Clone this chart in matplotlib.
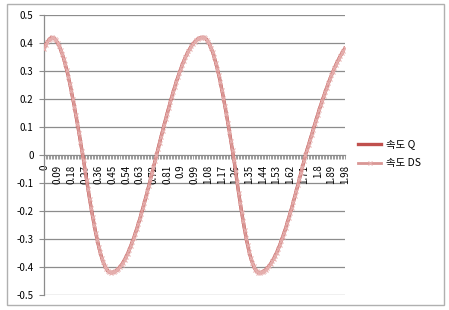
import matplotlib
matplotlib.use("Agg")
import matplotlib.pyplot as plt
from matplotlib.patches import Rectangle

plt.rcParams['font.family'] = ['Noto Sans CJK KR', 'DejaVu Sans']

# categories: time 0.00 .. 1.98
time = [round(0.01 * i, 2) for i in range(199)]

speed_q = [
    0.380, 0.392, 0.402, 0.410, 0.416, 0.420,
    0.419, 0.415, 0.409, 0.400, 0.390, 0.376, 0.361, 0.344, 0.324, 0.303,
    0.280, 0.255, 0.228, 0.201, 0.172, 0.142, 0.111, 0.080, 0.048, 0.016,
    -0.018, -0.053, -0.089, -0.123, -0.157, -0.189, -0.220, -0.250, -0.278, -0.303,
    -0.327, -0.348, -0.367, -0.383, -0.396, -0.406, -0.414, -0.419, -0.420,
    -0.419, -0.418, -0.415, -0.411, -0.406, -0.399, -0.392, -0.384, -0.374, -0.364,
    -0.352, -0.340, -0.326, -0.312, -0.297, -0.281, -0.264, -0.247, -0.229, -0.210,
    -0.191, -0.171, -0.151, -0.130, -0.109, -0.087, -0.066, -0.044, -0.022, 0.000,
    0.022, 0.043, 0.065, 0.086, 0.107, 0.128, 0.148, 0.168, 0.188, 0.207,
    0.225, 0.243, 0.261, 0.277, 0.293, 0.308, 0.323, 0.336, 0.349, 0.360,
    0.371, 0.380, 0.389, 0.397, 0.403, 0.409, 0.413, 0.417, 0.419, 0.420,
    0.420, 0.417, 0.412, 0.404, 0.394, 0.381, 0.367, 0.349, 0.330, 0.308,
    0.285, 0.260, 0.233, 0.205, 0.176, 0.145, 0.114, 0.082, 0.049, 0.017,
    -0.019, -0.058, -0.096, -0.134, -0.170, -0.204, -0.237, -0.268, -0.297, -0.323,
    -0.347, -0.367, -0.384, -0.398, -0.409, -0.416, -0.420,
    -0.420, -0.419, -0.417, -0.413, -0.409, -0.403, -0.397, -0.389, -0.380, -0.371,
    -0.360, -0.349, -0.336, -0.323, -0.308, -0.293, -0.277, -0.261, -0.243, -0.225,
    -0.207, -0.188, -0.168, -0.148, -0.128, -0.107, -0.086, -0.065, -0.043, -0.022,
    0.000, 0.018, 0.037, 0.055, 0.073, 0.091, 0.109, 0.126, 0.144, 0.161,
    0.178, 0.194, 0.210, 0.226, 0.241, 0.256, 0.270, 0.284, 0.297, 0.310,
    0.322, 0.333, 0.344, 0.354, 0.364, 0.373, 0.381,
]
speed_ds = list(speed_q)

x_tick_labels = ["0", "0.09", "0.18", "0.27", "0.36", "0.45", "0.54", "0.63",
                 "0.72", "0.81", "0.9", "0.99", "1.08", "1.17", "1.26", "1.35",
                 "1.44", "1.53", "1.62", "1.71", "1.8", "1.89", "1.98"]
y_ticks = [-0.5, -0.4, -0.3, -0.2, -0.1, 0, 0.1, 0.2, 0.3, 0.4, 0.5]
y_tick_labels = ["-0.5", "-0.4", "-0.3", "-0.2", "-0.1", "0", "0.1", "0.2", "0.3", "0.4", "0.5"]
series_names = ["속도 Q", "속도 DS"]

W, H = 449, 310
fig = plt.figure(figsize=(W / 100, H / 100), dpi=100)
fig.patch.set_facecolor('white')

# outer chart border
fig.patches.append(Rectangle((7 / W, 1 - 305 / H), 437 / W, 301 / H,
                             transform=fig.transFigure, fill=False,
                             edgecolor='#B0B0B0', linewidth=1.0))

ax = fig.add_axes([44 / W, 15 / H, 301 / W, 280 / H])
ax.set_facecolor('none')

idx = list(range(len(time)))
grid_c = '#8C8C8C'
for yv in y_ticks:
    if yv != 0:
        ax.axhline(yv, color=grid_c, lw=0.9, zorder=1)

ln_q, = ax.plot(idx, speed_q, color='#C0504D', lw=2.4, zorder=3, label=series_names[0])
ln_ds, = ax.plot(idx, speed_ds, color='#D99694', lw=2.0, marker='x', ms=3.2,
                 mew=0.8, mec='#E6B0AF', zorder=4, label=series_names[1])

ax.set_xlim(0, len(time) - 1)
ax.set_ylim(-0.5, 0.5)

for s in ['top', 'right']:
    ax.spines[s].set_visible(False)
ax.spines['left'].set_color(grid_c)
ax.spines['left'].set_linewidth(0.9)
ax.spines['bottom'].set_position(('data', 0))
ax.spines['bottom'].set_color(grid_c)
ax.spines['bottom'].set_linewidth(0.9)
ax.spines['bottom'].set_zorder(2)

ax.set_yticks(y_ticks)
ax.set_yticklabels(y_tick_labels)
ax.tick_params(axis='y', direction='out', length=3.5, width=0.8, color=grid_c,
               labelsize=7, pad=4, labelcolor='#000000')

ax.set_xticks(idx[::9])
ax.set_xticklabels(x_tick_labels, rotation=90, ha='center', va='top')
ax.set_xticks(idx, minor=True)
ax.tick_params(axis='x', which='both', direction='out', length=3, width=0.6,
               color=grid_c, labelsize=7, pad=4)

fig.legend(handles=[ln_q, ln_ds], labels=series_names, loc='center left',
           bbox_to_anchor=(353 / W, 1 - 154 / H), frameon=False, fontsize=7.5,
           handlelength=2.2, handletextpad=0.5, labelspacing=0.85, borderpad=0)

fig.savefig('out.png', dpi=100)
